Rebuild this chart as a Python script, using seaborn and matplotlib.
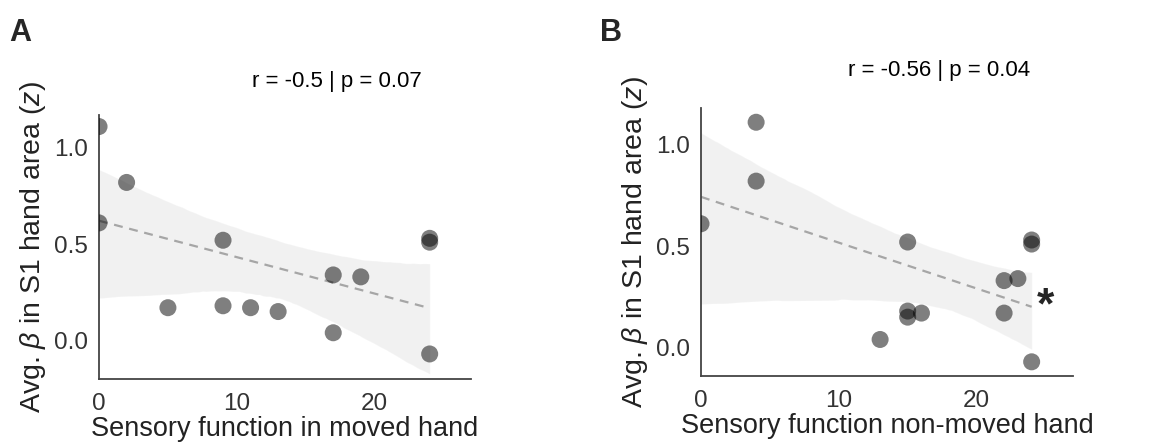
import numpy as np
import pandas as pd
import matplotlib
matplotlib.use("Agg")
import matplotlib.pyplot as plt
import seaborn as sns

# Data (one entry per participant)
beta_s1 = [1.11, 0.82, 0.61, 0.53, 0.51, 0.52, 0.34, 0.33, 0.18, 0.17, 0.17, 0.15, 0.04, -0.07]
sens_moved = [0, 2, 0, 24, 24, 9, 17, 19, 9, 5, 11, 13, 17, 24]
sens_nonmoved = [4, 4, 0, 24, 24, 15, 23, 22, 15, 16, 22, 15, 13, 24]

panel_labels = ["A", "B"]
stats_text = ["r = -0.5 | p = 0.07", "r = -0.56 | p = 0.04"]
x_labels = ["Sensory function in moved hand", "Sensory function non-moved hand"]
y_label = "Avg. $\\mathit{\\beta}$ in S1 hand area ($\\mathit{z}$)"
x_ticks = [0, 10, 20]
y_ticks = [0.0, 0.5, 1.0]

sns.set_theme(style="white")
plt.rcParams["font.family"] = ["Liberation Sans", "DejaVu Sans"]
plt.rcParams["mathtext.fontset"] = "custom"
plt.rcParams["mathtext.it"] = "Liberation Sans:italic"
plt.rcParams["mathtext.rm"] = "Liberation Sans"

fig = plt.figure(figsize=(11.53, 4.45), dpi=100)
axA = fig.add_axes([0.0859, 0.1483, 0.3226, 0.5933])
axB = fig.add_axes([0.6080, 0.1550, 0.3226, 0.6022])

df = pd.DataFrame({"beta": beta_s1, "moved": sens_moved, "nonmoved": sens_nonmoved})

ylims = [(-0.2, 1.17), (-0.14, 1.18)]
text_y = [1.125, 1.14]
seeds = [3, 11]
for i, (ax, xcol) in enumerate(zip([axA, axB], ["moved", "nonmoved"])):
    sns.regplot(data=df, x=xcol, y="beta", ax=ax, scatter=False, color="#a6a6a6",
                line_kws=dict(linestyle=(0, (4, 3)), linewidth=1.6),
                n_boot=2000, seed=seeds[i])
    sns.scatterplot(data=df, x=xcol, y="beta", ax=ax, color="black", alpha=0.5,
                    s=150, edgecolor="none", zorder=3)
    ax.set_xlim(0, 27)
    ax.set_ylim(*ylims[i])
    ax.set_xticks(x_ticks)
    ax.set_yticks(y_ticks)
    ax.set_yticklabels([f"{v:.1f}" for v in y_ticks])
    ax.tick_params(labelsize=17.5, colors="#333333", length=0)
    ax.tick_params(axis="x", pad=10)
    ax.tick_params(axis="y", pad=8)
    ax.set_xlabel(x_labels[i], fontsize=19.5, color="#222222", labelpad=1)
    ax.set_ylabel(y_label, fontsize=20.5, color="#222222", labelpad=4)
    sns.despine(ax=ax)
    for sp in ["left", "bottom"]:
        ax.spines[sp].set_color("#444444")
        ax.spines[sp].set_linewidth(1.3)
    ax.text(0.64, text_y[i], stats_text[i], transform=ax.transAxes, ha="center",
            va="center", fontsize=16, color="black")

fig.text(0.008, 0.925, panel_labels[0], fontsize=22, fontweight="bold", va="center")
fig.text(0.520, 0.925, panel_labels[1], fontsize=22, fontweight="bold", va="center")
axB.text(25.0, 0.2, "*", fontsize=32, fontweight="bold", ha="center", va="center")

fig.savefig("out.png", dpi=100)
